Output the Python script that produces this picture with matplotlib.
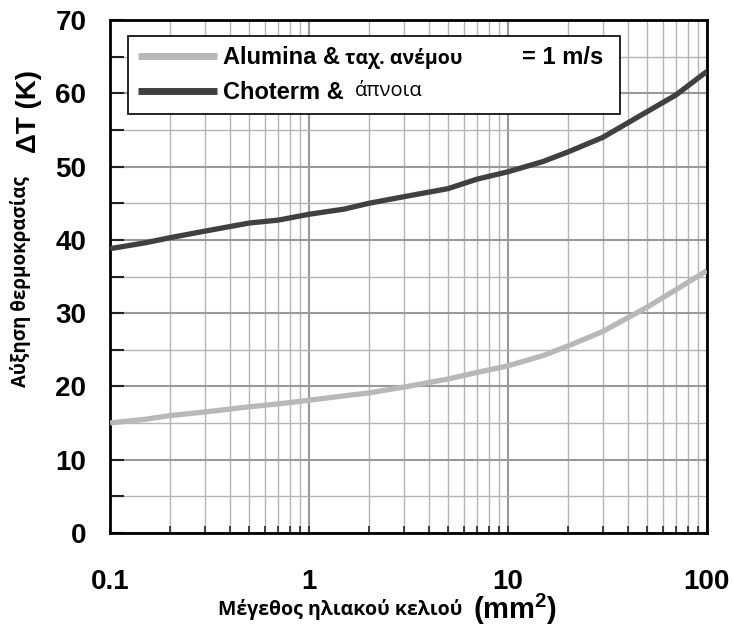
import matplotlib
matplotlib.use('Agg')
import matplotlib.pyplot as plt
from matplotlib.ticker import FixedLocator, FixedFormatter, LogLocator, NullFormatter, MultipleLocator

plt.rcParams['font.family'] = ['Liberation Sans', 'DejaVu Sans']
plt.rcParams['mathtext.fontset'] = 'custom'
plt.rcParams['mathtext.bf'] = 'Liberation Sans:bold'
plt.rcParams['mathtext.rm'] = 'Liberation Sans:bold'

GREEK = ['Open Sans', 'DejaVu Sans']

# cell size (mm^2) and temperature rise (K)
size_mm2 = [0.1, 0.15, 0.2, 0.3, 0.5, 0.7, 1, 1.5, 2, 3, 5, 7, 10, 15, 20, 30, 50, 70, 100]
choterm_still = [38.8, 39.6, 40.3, 41.2, 42.3, 42.7, 43.5, 44.2, 45.0, 45.9, 47.0, 48.3,
                 49.3, 50.7, 52.0, 54.0, 57.5, 59.8, 63.0]
alumina_wind = [15.0, 15.5, 16.0, 16.5, 17.2, 17.6, 18.1, 18.7, 19.1, 19.9, 21.0, 21.9,
                22.8, 24.2, 25.5, 27.5, 30.8, 33.2, 35.8]

x_ticks = [0.1, 1, 10, 100]
x_ticklabels = ['0.1', '1', '10', '100']

fig = plt.figure(figsize=(7.34, 6.32), dpi=100)
fig.subplots_adjust(left=0.150, right=0.963, top=0.968, bottom=0.157)
ax = fig.add_subplot(111)

l1, = ax.plot(size_mm2, alumina_wind, color='#b8b8b8', lw=3.8, solid_capstyle='butt', zorder=3)
l2, = ax.plot(size_mm2, choterm_still, color='#404040', lw=3.8, solid_capstyle='butt', zorder=3)

ax.set_xscale('log')
ax.set_xlim(0.1, 100)
ax.set_ylim(0, 70)
ax.xaxis.set_major_locator(FixedLocator(x_ticks))
ax.xaxis.set_major_formatter(FixedFormatter(x_ticklabels))
ax.xaxis.set_minor_locator(LogLocator(base=10, subs=range(2, 10)))
ax.xaxis.set_minor_formatter(NullFormatter())
ax.yaxis.set_major_locator(MultipleLocator(10))
ax.yaxis.set_minor_locator(MultipleLocator(5))

ax.grid(which='major', color='#999999', lw=1.5, zorder=0)
ax.grid(which='minor', color='#b4b4b4', lw=1.0, zorder=0)

ax.tick_params(axis='y', which='both', direction='in', length=10, width=1.5, color='#222222',
               labelsize=20, pad=17)
ax.tick_params(axis='x', which='both', direction='in', length=5, width=1.2, color='#222222',
               labelsize=20, pad=26)
for lab in ax.get_xticklabels() + ax.get_yticklabels():
    lab.set_fontweight('bold')

for sp in ax.spines.values():
    sp.set_linewidth(2)
    sp.set_color('black')

leg = ax.legend([l1, l2], ['Alumina &', 'Choterm &'], loc='upper left',
                bbox_to_anchor=(0.030, 0.799, 0.824, 0.170), mode='expand', borderaxespad=0,
                prop={'weight': 'bold', 'size': 17}, handlelength=3.35, handletextpad=0.25,
                labelspacing=0.5, borderpad=0.42, fancybox=False, framealpha=1,
                edgecolor='black')
leg.get_frame().set_linewidth(1.2)
leg.set_zorder(5)
for h in leg.legend_handles:
    h.set_linewidth(5)

ax.text(0.394, 0.926, 'ταχ. ανέμου', transform=ax.transAxes, fontsize=14, family=GREEK,
        fontweight='bold', va='center', ha='left', zorder=6)
ax.text(0.690, 0.928, '= 1 m/s', transform=ax.transAxes, fontsize=17, fontweight='bold',
        va='center', ha='left', zorder=6)
ax.text(0.410, 0.862, 'άπνοια', transform=ax.transAxes, fontsize=14.5, family=GREEK,
        va='center', ha='left', zorder=6)

fig.text(0.028, 0.555, 'Αύξηση θερμοκρασίας', rotation=90, fontsize=13.5, family=GREEK,
         fontweight='bold', ha='center', va='center')
fig.text(0.040, 0.824, 'ΔT (K)', rotation=90, fontsize=20, fontweight='bold',
         ha='center', va='center')
fig.text(0.463, 0.035, 'Μέγεθος ηλιακού κελιού', fontsize=14, family=GREEK,
         fontweight='bold', ha='center', va='center')
fig.text(0.702, 0.036, r'$\mathbf{(mm^2)}$', fontsize=21, ha='center', va='center')

fig.savefig('out.png', dpi=100)
